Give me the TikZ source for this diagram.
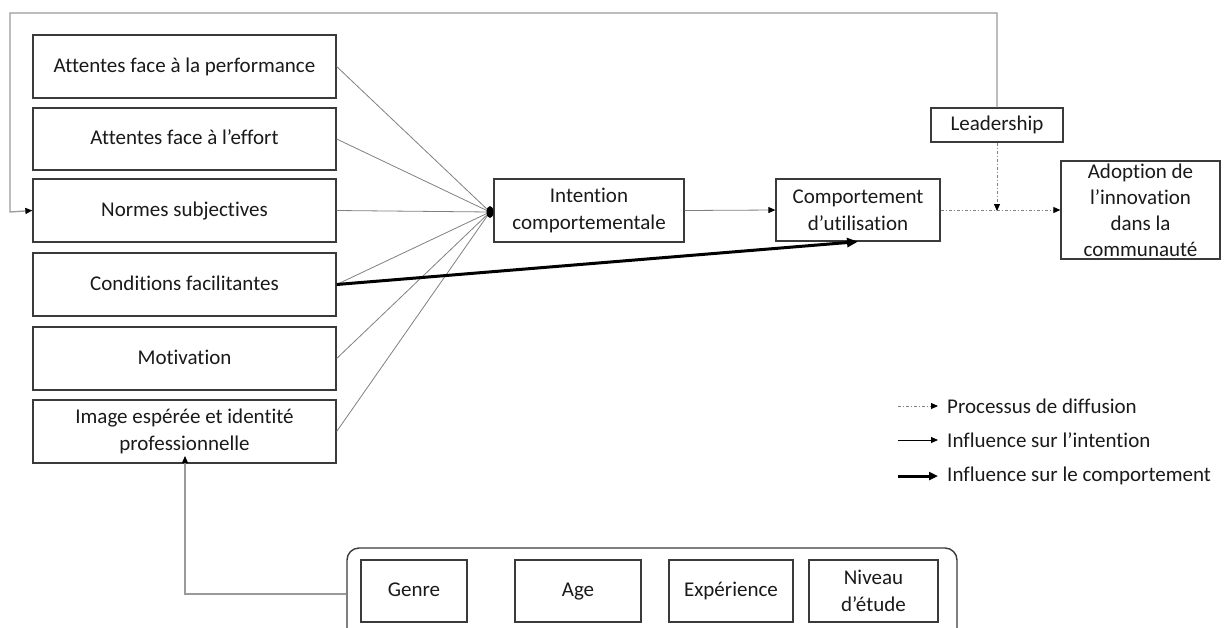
\documentclass[tikz,border=0pt]{standalone}
\usepackage{fontspec}
\setmainfont{Carlito}[Ligatures=NoCommon]
\usetikzlibrary{arrows.meta}
\definecolor{bordc}{HTML}{3A3A3A}
\definecolor{linec}{HTML}{808080}
\definecolor{fbc}{HTML}{9A9A9A}
\definecolor{txtc}{HTML}{1A1A1A}
\tikzset{
  box/.style={draw=bordc, line width=1.3pt, fill=white, inner sep=0pt, align=center,
    font=\fontsize{21}{27}\selectfont, text=txtc},
  oneline/.style={text height=14pt, text depth=3pt},
  thin/.style={draw=linec, line width=0.8pt},
  thick/.style={draw=black, line width=3pt, -{Triangle[length=11pt,width=9pt]}},
  tip/.style={-{Triangle[length=7pt,width=6pt,color=black]}},
  diffus/.style={draw=linec, line width=0.9pt, dash pattern=on 3pt off 2pt on 1pt off 2pt},
  feed/.style={draw=fbc, line width=1.3pt},
  legtxt/.style={anchor=west, inner sep=0pt, font=\fontsize{21}{24}\selectfont, text=txtc},
}
\begin{document}
\begin{tikzpicture}[x=1pt,y=-1pt]
\useasboundingbox (0,0) rectangle (1228,627);
% left boxes
\node[box, oneline, minimum width=303pt, minimum height=63pt] (perf) at (184.5,66.5) {Attentes face à la performance};
\node[box, oneline, minimum width=303pt, minimum height=62pt] (eff) at (184.5,139) {Attentes face à l’effort};
\node[box, oneline, minimum width=303pt, minimum height=63pt] (norm) at (184.5,210.5) {Normes subjectives};
\node[box, oneline, minimum width=303pt, minimum height=63pt] (cond) at (184.5,284.5) {Conditions facilitantes};
\node[box, oneline, minimum width=303pt, minimum height=63pt] (motiv) at (184.5,358.5) {Motivation};
\node[box, minimum width=303pt, minimum height=63pt] (img) at (184.5,431.5) {Image espérée et identité\\professionnelle};
% central boxes
\node[box, minimum width=190pt, minimum height=63pt] (inten) at (589,210.5) {Intention\\comportementale};
\node[box, minimum width=164pt, minimum height=62pt] (comp) at (858,210) {Comportement\\d’utilisation};
\node[box, minimum width=159pt, minimum height=98pt, font=\fontsize{21}{26}\selectfont] (adop) at (1140.5,210) {Adoption de\\l’innovation\\dans la\\communauté};
\node[box, oneline, minimum width=132pt, minimum height=34pt] (lead) at (997,125) {Leadership};
% group of moderators
\node[draw=bordc, line width=1.4pt, rounded corners=12pt, fill=white, minimum width=610pt, minimum height=92pt, inner sep=0pt] (grp) at (652,594) {};
\node[box, oneline, minimum width=106pt, minimum height=62pt] (genre) at (414,591) {Genre};
\node[box, oneline, minimum width=126pt, minimum height=62pt] (age) at (578,591) {Age};
\node[box, oneline, minimum width=124pt, minimum height=62pt] (exp) at (731,591) {Expérience};
\node[box, minimum width=129pt, minimum height=62pt] (niv) at (873.5,591) {Niveau\\d’étude};
% convergence point
\coordinate (conv) at (490,212);
\foreach \s in {perf,eff,norm,cond,motiv,img}{
  \draw[thin] (\s.east) -- (conv);
}
\fill[black] (conv) ellipse (3.5pt and 6pt);
% intention -> comportement
\draw[thin, tip] (inten.east) -- (comp.west);
% facilitating conditions -> behaviour
\draw[thick] (cond.east) -- (comp.south);
% diffusion
\coordinate (meet) at (997,211);
\draw[diffus, tip] (comp.east) -- (adop.west);
\draw[diffus, tip] (lead.south) -- (meet);
% feedback loop
\coordinate (fb1) at (997,13);
\coordinate (fb2) at (10,13);
\coordinate (fb3) at (10,212);
\draw[feed, tip] (lead.north) -- (fb1) -- (fb2) -- (fb3) -- (norm.west);
% moderators -> image
\coordinate (md1) at (185,594);
\coordinate (md2) at (185,456);
\draw[feed, tip] (grp.west) -- (md1) -- (md2);
% legend
\node[legtxt] (l1) at (947,406) {Processus de diffusion};
\node[legtxt] (l2) at (947,440) {Influence sur l’intention};
\node[legtxt] (l3) at (947,476) {Influence sur le comportement};
\coordinate (s1) at (898,406);
\coordinate (s2) at (898,440);
\coordinate (s3) at (898,476);
\coordinate (e1) at (938,406);
\coordinate (e2) at (938,440);
\coordinate (e3) at (938,476);
\draw[diffus, tip] (s1) -- (e1);
\draw[black, line width=0.8pt, tip] (s2) -- (e2);
\draw[black, line width=3pt, -{Triangle[length=9pt,width=8pt]}] (s3) -- (e3);
\end{tikzpicture}
\end{document}
